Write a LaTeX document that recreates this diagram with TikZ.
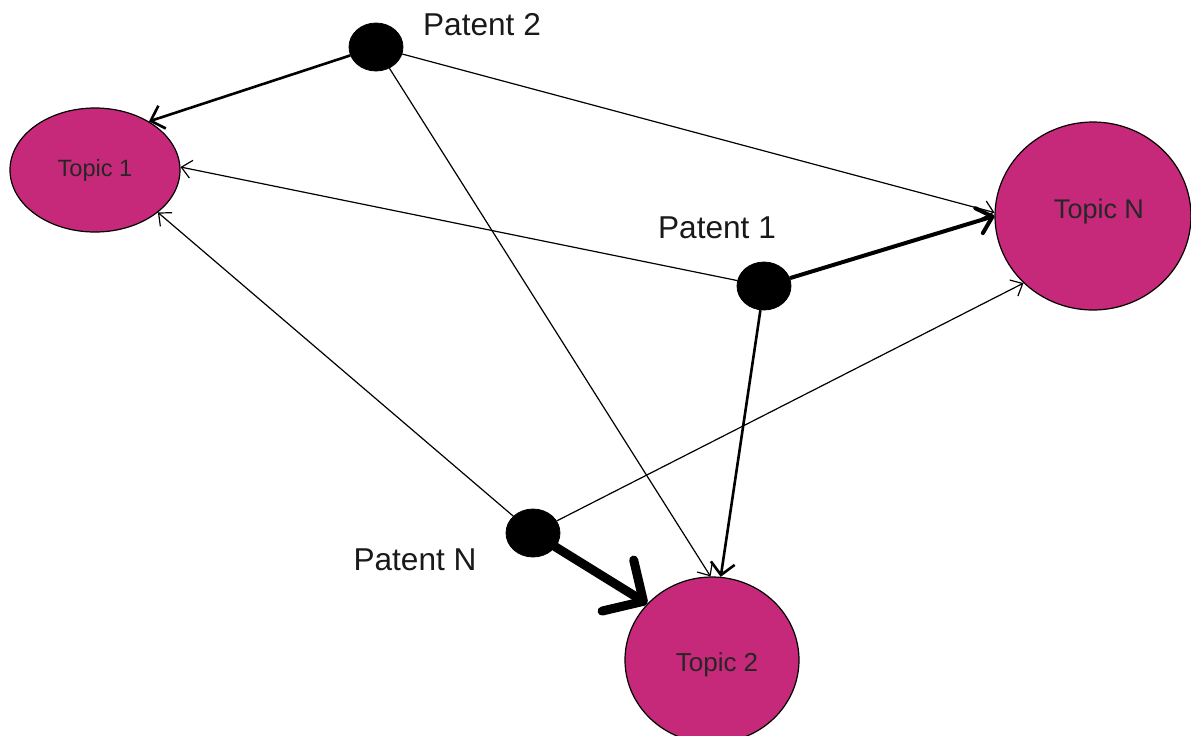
\documentclass[tikz,border=0pt]{standalone}
\usepackage{fontspec}
\setmainfont{Liberation Sans}
\usetikzlibrary{shapes.geometric,arrows.meta}
\definecolor{topicfill}{RGB}{198,41,122}
\tikzset{
  topic/.style={ellipse, draw=black, line width=0.6pt, fill=topicfill, inner sep=0pt, text=black!85},
  patent/.style={ellipse, fill=black, draw=black, inner sep=0pt, minimum width=27pt, minimum height=24pt},
  plabel/.style={font=\fontsize{15.8pt}{18pt}\selectfont, text=black!90},
  thinarr/.style={line width=0.6pt, -{Straight Barb[length=5pt,width=9pt]}},
  medarr/.style={line width=1.3pt, -{Straight Barb[length=6pt,width=12pt]}},
  thickarr/.style={line width=2pt, -{Straight Barb[length=7pt,width=13pt,round]}},
  heavyarr/.style={line width=4.5pt, line cap=round, -{Straight Barb[length=15pt,width=30pt,round]}},
}
\begin{document}
\begin{tikzpicture}[x=0.5pt,y=-0.5pt]
\useasboundingbox (0,0) rectangle (1191,735);
% topics
\node[topic, minimum width=85pt, minimum height=62pt, font=\fontsize{11.8pt}{14pt}\selectfont] (t1) at (95,170) {Topic 1};
\node[topic, minimum width=98pt, minimum height=94pt] (tN) at (1093,216) {};
\node[font=\fontsize{13.5pt}{16pt}\selectfont, text=black!85] (tNl) at (1099,212) {Topic N};
\node[topic, minimum width=87pt, minimum height=83pt] (t2) at (712,660) {};
\node[font=\fontsize{13pt}{15pt}\selectfont, text=black!85] (t2l) at (717,665) {Topic 2};
% patents
\node[patent] (p2) at (376,47) {};
\node[patent] (p1) at (764,286) {};
\node[patent] (pN) at (533,533) {};
\node[plabel] (p2l) at (482,25) {Patent 2};
\node[plabel] (p1l) at (717,228) {Patent 1};
\node[plabel] (pNl) at (415,560) {Patent N};
% connectors
\draw[medarr] (p2) -- (t1.42);
\draw[thinarr] (p2) -- (tN.178);
\draw[thinarr] (p2) -- (t2.91);
\draw[thinarr] (p1) -- (t1.2);
\draw[thickarr] (p1) -- (tN.180);
\draw[medarr] (p1) -- (t2.84);
\draw[thinarr] (pN) -- (t1.326);
\draw[thinarr] (pN) -- (tN.224);
\draw[heavyarr] (pN) -- (t2.139);
\end{tikzpicture}
\end{document}
